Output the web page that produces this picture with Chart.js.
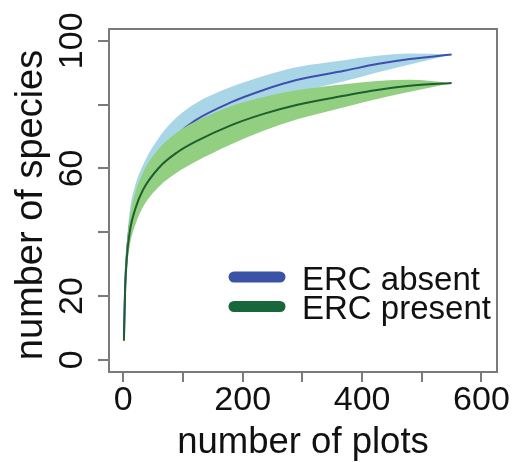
<!DOCTYPE html>
<html>
<head>
<meta charset="utf-8">
<script src="https://cdn.jsdelivr.net/npm/chart.js@4.4.0/dist/chart.umd.min.js"></script>
<style>
  html, body { margin: 0; padding: 0; background: #fff; }
</style>
</head>
<body>
<canvas id="myChart" width="513" height="462"></canvas>
<script>
// number of plots sampled
const plots = [1, 3, 6, 11, 20, 33, 60, 90, 120, 180, 235, 290, 370, 425, 480, 550];

// ERC absent (blue)
const absentMean  = [7.1, 23, 33.5, 42.5, 49.5, 55.5, 64, 70.5, 75, 80.7, 84.6, 87.7, 90.6, 92.7, 94.3, 95.7];
const absentUpper = [8.1, 25.5, 37, 47, 54.7, 61.1, 69.8, 76.1, 80.3, 85.5, 89.0, 91.7, 93.9, 95.3, 96.0, 95.7];
const absentLower = [6.1, 20.5, 30, 38, 44.3, 49.9, 58.2, 64.9, 69.7, 75.9, 80.2, 83.7, 87.3, 90.1, 92.6, 95.7];

// ERC present (green)
const presentMean  = [6, 21.8, 32.2, 40.5, 47.3, 53.3, 60.3, 65.0, 68.3, 73.5, 77.1, 79.9, 82.8, 84.6, 85.9, 86.8];
const presentUpper = [10, 25.3, 36.2, 45, 52.3, 58.7, 66.3, 71.3, 74.6, 79.5, 82.4, 84.5, 86.4, 87.4, 87.8, 86.8];
const presentLower = [2, 18.3, 28.2, 36, 42.3, 47.9, 54.3, 58.7, 62, 67.5, 71.8, 75.3, 79.2, 81.8, 84.0, 86.8];

const xTicks = [0, 100, 200, 300, 400, 500, 600];
const xLabels = ['0', '', '200', '', '400', '', '600'];
const yTicks = [0, 20, 40, 60, 80, 100];
const yLabels = ['0', '20', '', '60', '', '100'];

const legendNames = ['ERC absent', 'ERC present'];
const legendColors = ['#3a53a6', '#18673a'];

const pts = ys => plots.map((x, i) => ({ x: x, y: ys[i] }));

const AXIS = '#7a7a7a';
const FONT = '"Liberation Sans", Arial, Helvetica, sans-serif';

const textPlugin = {
    id: 'rtext',
    afterDraw(chart) {
        const ctx = chart.ctx;
        const a = chart.chartArea;
        const xs = chart.scales.x, ys = chart.scales.y;
        ctx.save();
        // box
        ctx.strokeStyle = AXIS;
        ctx.lineWidth = 2;
        ctx.strokeRect(a.left, a.top, a.right - a.left, a.bottom - a.top);

        ctx.fillStyle = '#111';
        // x tick labels
        ctx.font = '34px ' + FONT;
        ctx.textAlign = 'center';
        ctx.textBaseline = 'alphabetic';
        xTicks.forEach((v, i) => {
            if (xLabels[i]) ctx.fillText(xLabels[i], xs.getPixelForValue(v), 410);
        });
        // y tick labels (rotated)
        yTicks.forEach((v, i) => {
            if (!yLabels[i]) return;
            ctx.save();
            ctx.translate(82, ys.getPixelForValue(v));
            ctx.rotate(-Math.PI / 2);
            ctx.fillText(yLabels[i], 0, 0);
            ctx.restore();
        });
        // axis titles
        ctx.font = '36.5px ' + FONT;
        ctx.fillText('number of plots', (a.left + a.right) / 2, 453);
        ctx.save();
        ctx.font = '38px ' + FONT;
        ctx.translate(42, 205);
        ctx.rotate(-Math.PI / 2);
        ctx.fillText('number of species', 0, 0);
        ctx.restore();

        // legend
        ctx.font = '33px ' + FONT;
        ctx.textAlign = 'left';
        const rows = [277, 306.5];
        const bases = [290, 318.5];
        legendNames.forEach((name, i) => {
            ctx.strokeStyle = legendColors[i];
            ctx.lineWidth = 11;
            ctx.lineCap = 'round';
            ctx.beginPath();
            ctx.moveTo(234, rows[i]);
            ctx.lineTo(280, rows[i]);
            ctx.stroke();
            ctx.fillStyle = '#111';
            ctx.fillText(name, 302, bases[i]);
        });
        ctx.restore();
    }
};

const lineOpts = {
    pointRadius: 0,
    cubicInterpolationMode: 'monotone',
    fill: false
};

new Chart(document.getElementById('myChart').getContext('2d'), {
    type: 'line',
    data: {
        datasets: [
            Object.assign({ label: 'present', data: pts(presentMean), borderColor: '#1d5f2f', borderWidth: 2, order: 0 }, lineOpts),
            Object.assign({ label: 'present hi', data: pts(presentUpper), borderWidth: 0, borderColor: 'rgba(0,0,0,0)', backgroundColor: '#92cf80', order: 1 }, lineOpts, { fill: '+1' }),
            Object.assign({ label: 'present lo', data: pts(presentLower), borderWidth: 0, borderColor: 'rgba(0,0,0,0)', order: 1 }, lineOpts),
            Object.assign({ label: 'absent', data: pts(absentMean), borderColor: '#3f4fae', borderWidth: 2, order: 2 }, lineOpts),
            Object.assign({ label: 'absent hi', data: pts(absentUpper), borderWidth: 0, borderColor: 'rgba(0,0,0,0)', backgroundColor: '#a9d6e6', order: 3 }, lineOpts, { fill: '+1' }),
            Object.assign({ label: 'absent lo', data: pts(absentLower), borderWidth: 0, borderColor: 'rgba(0,0,0,0)', order: 3 }, lineOpts)
        ]
    },
    options: {
        responsive: false,
        animation: false,
        devicePixelRatio: 1,
        layout: { padding: { left: 98, right: 16, top: 29, bottom: 80 } },
        plugins: { legend: { display: false }, tooltip: { enabled: false } },
        scales: {
            x: {
                type: 'linear',
                min: -24,
                max: 626,
                afterBuildTicks: s => { s.ticks = xTicks.map(v => ({ value: v })); },
                ticks: { display: false },
                grid: { drawOnChartArea: false, drawTicks: true, tickLength: 10, color: AXIS, lineWidth: 2 },
                border: { display: true, color: AXIS, width: 2 }
            },
            y: {
                type: 'linear',
                min: -3.8,
                max: 103.7,
                afterBuildTicks: s => { s.ticks = yTicks.map(v => ({ value: v })); },
                ticks: { display: false },
                grid: { drawOnChartArea: false, drawTicks: true, tickLength: 11, color: AXIS, lineWidth: 2 },
                border: { display: true, color: AXIS, width: 2 }
            }
        }
    },
    plugins: [textPlugin]
});
</script>
</body>
</html>
